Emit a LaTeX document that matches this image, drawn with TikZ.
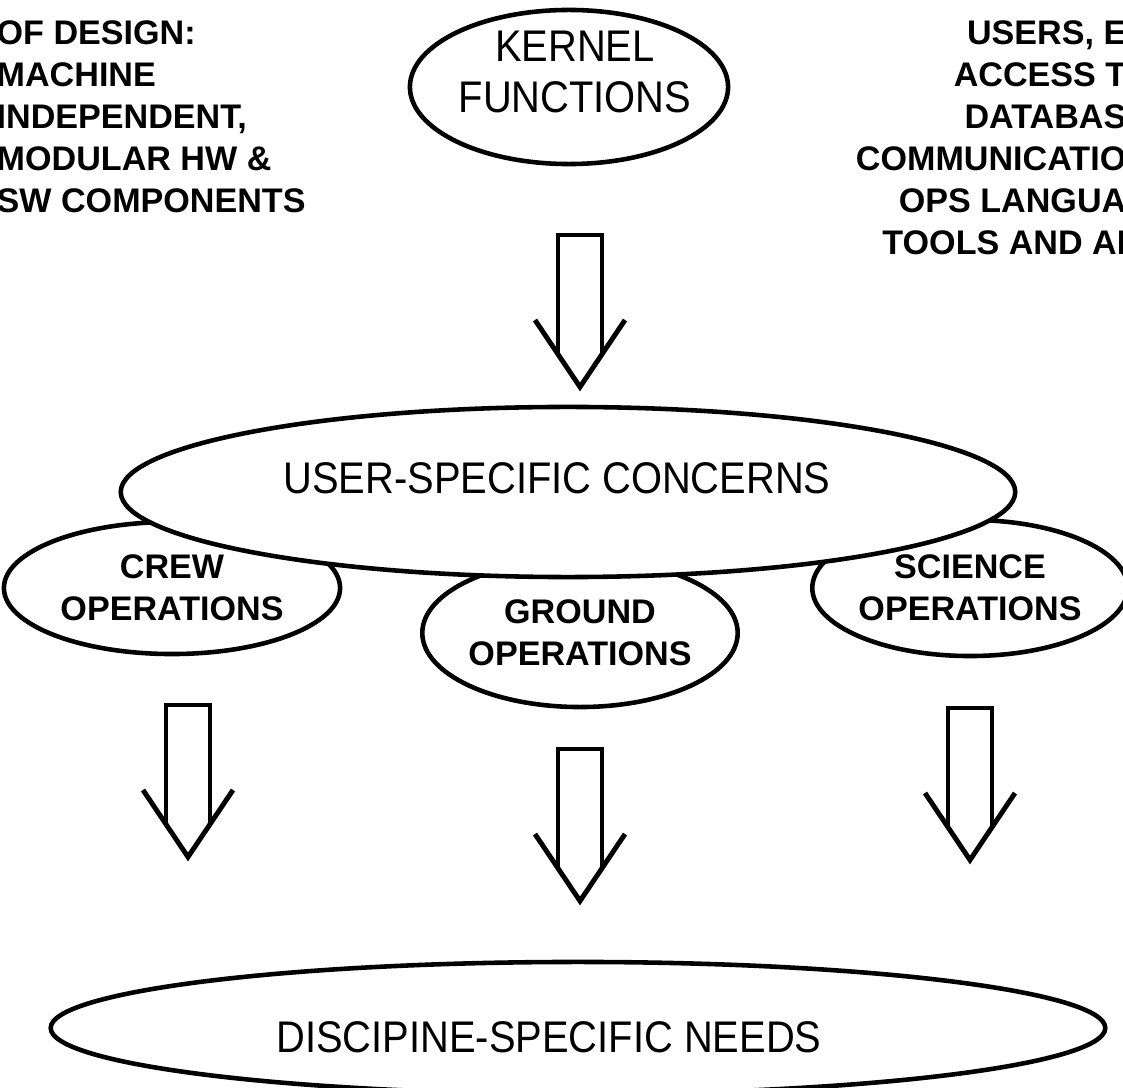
\documentclass[tikz,border=0pt]{standalone}
\usepackage{fontspec}
\setmainfont{Liberation Sans}
\newfontfamily\tallfont[FakeStretch=0.9]{Liberation Sans}
\usetikzlibrary{shapes.geometric, positioning}

\begin{document}
\begin{tikzpicture}[x=0.01cm, y=-0.01cm,
  oval/.style={draw, ellipse, line width=1.3pt, inner sep=0pt},
  bold label/.style={font=\fontsize{9.7}{11.95}\selectfont\bfseries, align=center},
  plain label/.style={font=\tallfont\fontsize{12.6}{14.5}\selectfont, align=center},
  hollow arrow/.pic={
    \draw[line width=1.4pt] (-22,119) -- (-22,0) -- (22,0) -- (22,119);
    \draw[line width=1.4pt] (-45,85) -- (0,152) -- (45,85);
  }]
\useasboundingbox (0,0) rectangle (1123,1088);
\clip (0,0) rectangle (1123,1088);

% Notes in the top corners (cut by the page edge)
\node[bold label, align=left, anchor=north west, inner sep=0pt] (design) at (-4,20)
  {OF DESIGN:\\MACHINE\\INDEPENDENT,\\MODULAR HW \&\\SW COMPONENTS};
\node[bold label, align=right, anchor=north east, inner sep=0pt] (users) at (1127,20)
  {USERS, E\\ACCESS T\\DATABAS\\COMMUNICATIO\\OPS LANGUA\\TOOLS AND AI};

% Kernel
\node[oval, minimum width=3.18cm, minimum height=1.54cm] (kernel) at (569,87) {};
\node[plain label] (kerneltxt) at (575,72) {KERNEL\\FUNCTIONS};
\pic at (580,235) {hollow arrow};

% Operations (drawn first, the big oval covers their tops)
\node[oval, bold label, minimum width=3.36cm, minimum height=1.32cm] (crew) at (172,588) {CREW\\OPERATIONS};
\node[oval, bold label, minimum width=3.06cm, minimum height=1.48cm] (ground) at (580,633) {GROUND\\OPERATIONS};
\node[oval, bold label, minimum width=3.06cm, minimum height=1.36cm] (science) at (970,588) {SCIENCE\\OPERATIONS};

% User-specific concerns
\node[oval, fill=white, minimum width=8.94cm, minimum height=1.70cm] (user) at (568,492) {};
\node[plain label] (usertxt) at (557,478) {USER-SPECIFIC CONCERNS};

% Arrows down
\pic at (188,705) {hollow arrow};
\pic at (580,749) {hollow arrow};
\pic at (970,708) {hollow arrow};

% Discipline needs
\node[oval, minimum width=10.54cm, minimum height=1.32cm] (disc) at (578,1028) {};
\node[plain label] (disctxt) at (549,1037) {DISCIPINE-SPECIFIC NEEDS};
\end{tikzpicture}
\end{document}
